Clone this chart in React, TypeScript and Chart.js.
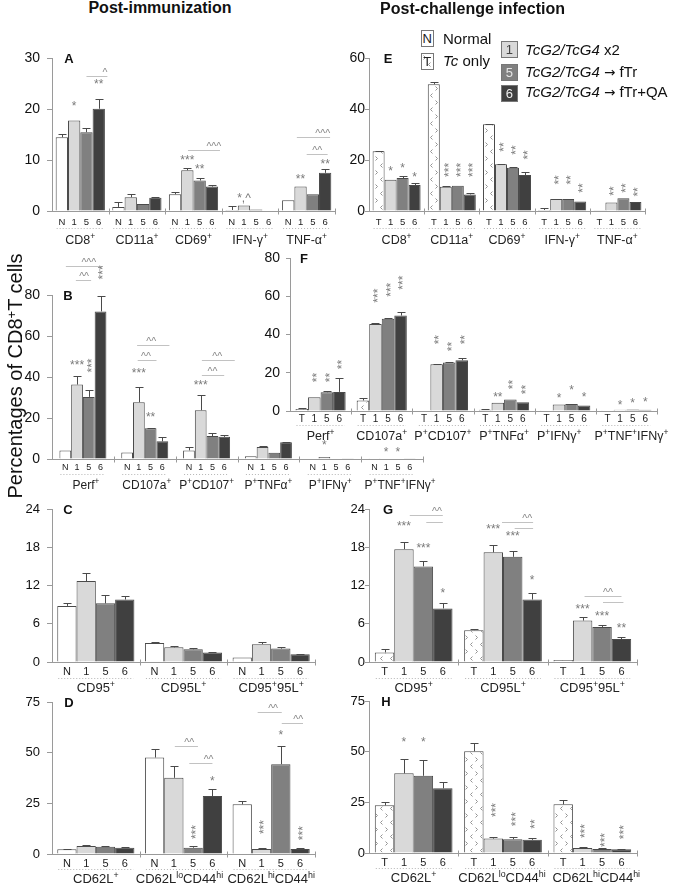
import React, { useEffect, useRef } from 'react';
import { Chart, registerables } from 'chart.js';

Chart.register(...registerables);

const FONT = '"Liberation Sans", Arial, Helvetica, sans-serif';

// ---------- DATA (series order: control N/T, 1, 5, 6) ----------
// Panel A – post-immunization
const catsA = ['CD8^{+}', 'CD11a^{+}', 'CD69^{+}', 'IFN-γ^{+}', 'TNF-α^{+}'];
const A_ctrl = [14.5, 0.8, 3.3, 0.2, 2.1];
const A_g1 = [17.8, 2.7, 8.0, 1.1, 4.8];
const A_g5 = [15.5, 1.4, 6.0, 0.3, 3.3];
const A_g6 = [20.1, 2.6, 4.8, 0.1, 7.5];
const A_eCtrl = [0.7, 1.0, 0.4, 0.8, 0];
const A_e1 = [0, 0.7, 0.4, 0, 0];
const A_e5 = [0.8, 0, 0.4, 0, 0];
const A_e6 = [1.9, 0.2, 0.3, 0, 0.7];
const A_stars = [[0, 1, '*', 21.2, 0], [0, 3, '**', 25.5, 0], [2, 1, '***', 10.6, 0], [2, 2, '**', 8.8, 0], [3, 1, '*,^', 3.1, 0], [4, 1, '**', 6.9, 0], [4, 3, '**', 9.8, 0]];
const A_lines = [[0, 2, 3.7, 26.6, '^', 3.5], [2, 1.05, 3.65, 12.0, '^^^', 3.15], [4, 0.7, 3.4, 14.5, '^^^', 2.8], [4, 1.5, 3.2, 11.2, '^^', 2.35]];

// Panel E – post-challenge
const catsE = ['CD8^{+}', 'CD11a^{+}', 'CD69^{+}', 'IFN-γ^{+}', 'TNF-α^{+}'];
const E_ctrl = [23.4, 49.7, 34.0, 0.4, 0.1];
const E_g1 = [12.3, 9.5, 18.3, 4.7, 3.3];
const E_g5 = [12.9, 9.9, 17.0, 4.7, 5.0];
const E_g6 = [10.2, 6.5, 14.1, 3.7, 3.5];
const E_eCtrl = [0.3, 1.0, 0.2, 0.6, 0];
const E_e1 = [0, 0.3, 0.2, 0, 0];
const E_e5 = [0.7, 0, 0.3, 0, 0];
const E_e6 = [0.6, 0.4, 1.1, 0, 0];
const E_stars = [[0, 1, '*', 16.9, 0], [0, 2, '*', 18.0, 0], [0, 3, '*', 14.5, 0],
  [1, 1, '***', 16.1, 1], [1, 2, '***', 16.1, 1], [1, 3, '***', 16.1, 1],
  [2, 1, '**', 25.1, 1], [2, 2, '**', 23.9, 1], [2, 3, '**', 22.0, 1],
  [3, 1, '**', 12.2, 1], [3, 2, '**', 12.2, 1], [3, 3, '**', 9.0, 1],
  [4, 1, '**', 7.8, 1], [4, 2, '**', 9.0, 1], [4, 3, '**', 7.5, 1]];
const E_lines: any[] = [];

// Panel B – post-immunization
const catsB = ['Perf^{+}', 'CD107a^{+}', 'P^{+}CD107^{+}', 'P^{+}TNFα^{+}', 'P^{+}IFNγ^{+}', 'P^{+}TNF^{+}IFNγ^{+}'];
const B_ctrl = [4.2, 3.2, 4.2, 1.4, 0.2, 0.1];
const B_g1 = [36.3, 27.7, 23.8, 5.8, 1.0, 0.2];
const B_g5 = [30.3, 15.0, 11.2, 3.0, 0.3, 0.2];
const B_g6 = [72.0, 8.6, 10.8, 8.2, 0.1, 0.1];
const B_eCtrl = [0, 0, 1.5, 0, 0, 0];
const B_e1 = [4.0, 7.6, 7.2, 0.4, 0, 0];
const B_e5 = [3.2, 0.3, 1.7, 0, 0, 0];
const B_e6 = [7.4, 2.1, 0.9, 0.3, 0, 0];
const B_stars = [[0, 1, '***', 47.1, 0], [0, 2, '***', 45.6, 1], [0, 3, '***', 91.0, 1], [1, 1, '***', 43.2, 0], [1, 2, '**', 21.7, 0], [2, 1, '***', 37.3, 0], [4, 1, '*', 8.0, 0], [5, 1, '*', 4.6, 0], [5, 2, '*', 4.6, 0]];
const B_lines = [[0, 0.05, 3.2, 94.3, '^^^', 2.0], [0, 0.9, 2.2, 87.1, '^^', 1.6], [1, 0.85, 3.6, 55.5, '^^', 2.05], [1, 0.9, 2.5, 48.5, '^^', 1.6], [2, 1.1, 3.9, 48.2, '^^', 2.4], [2, 1.1, 3.0, 41.2, '^^', 2.0]];

// Panel F – post-challenge
const catsF = ['Perf^{+}', 'CD107a^{+}', 'P^{+}CD107^{+}', 'P^{+}TNFα^{+}', 'P^{+}IFNγ^{+}', 'P^{+}TNF^{+}IFNγ^{+}'];
const F_ctrl = [1.1, 5.5, 0.3, 0.6, 0.1, 0.1];
const F_g1 = [7.2, 45.5, 24.5, 4.3, 3.4, 0.7];
const F_g5 = [9.8, 48.3, 25.4, 6.0, 3.6, 0.8];
const F_g6 = [10.0, 49.9, 26.5, 4.6, 2.9, 0.6];
const F_eCtrl = [0.4, 1.4, 0, 0.3, 0, 0];
const F_e1 = [0, 0.3, 0.2, 0, 0, 0];
const F_e5 = [0.5, 0.2, 0.3, 0, 0, 0];
const F_e6 = [7.3, 1.9, 1.1, 0, 0, 0];
const F_stars = [[0, 1, '**', 17.5, 1], [0, 2, '**', 17.5, 1], [0, 3, '**', 24.3, 1],
  [1, 1, '***', 60.3, 1], [1, 2, '***', 63.4, 1], [1, 3, '***', 67.1, 1],
  [2, 1, '**', 37.3, 1], [2, 2, '**', 33.7, 1], [2, 3, '**', 37.3, 1],
  [3, 1, '**', 8.6, 0], [3, 2, '**', 13.8, 1], [3, 3, '**', 11.2, 1],
  [4, 1, '*', 8.1, 0], [4, 2, '*', 12.4, 0], [4, 3, '*', 8.6, 0],
  [5, 1, '*', 4.8, 0], [5, 2, '*', 5.5, 0], [5, 3, '*', 6.0, 0]];
const F_lines: any[] = [];

// Panel C – post-immunization
const catsC = ['CD95^{+}', 'CD95L^{+}', 'CD95^{+}95L^{+}'];
const C_ctrl = [8.8, 3.0, 0.7];
const C_g1 = [12.7, 2.3, 2.8];
const C_g5 = [9.2, 2.0, 2.1];
const C_g6 = [9.8, 1.5, 1.2];
const C_eCtrl = [0.5, 0.1, 0];
const C_e1 = [1.3, 0.2, 0.3];
const C_e5 = [1.3, 0.2, 0.3];
const C_e6 = [0.5, 0.1, 0.1];
const C_stars: any[] = [];
const C_lines: any[] = [];

// Panel G – post-challenge
const catsG = ['CD95^{+}', 'CD95L^{+}', 'CD95^{+}95L^{+}'];
const G_ctrl = [1.5, 5.0, 0.3];
const G_g1 = [17.7, 17.2, 6.5];
const G_g5 = [15.0, 16.5, 5.5];
const G_g6 = [8.4, 9.8, 3.6];
const G_eCtrl = [0.5, 0.1, 0];
const G_e1 = [1.2, 1.2, 0.5];
const G_e5 = [0.8, 0.9, 0.3];
const G_e6 = [0.9, 1.1, 0.4];
const G_stars = [[0, 1, '***', 21.8, 0], [0, 2, '***', 18.35, 0], [0, 3, '*', 11.3, 0], [1, 1, '***', 21.3, 0], [1, 2, '***', 20.2, 0], [1, 3, '*', 13.3, 0], [2, 1, '***', 8.8, 0], [2, 2, '***', 7.7, 0], [2, 3, '**', 5.8, 0]];
const G_lines = [[0, 1.3, 3.0, 23.1, '^^', 2.7], [0, 2.15, 3.0, 21.96, '', 0], [1, 1.45, 3.05, 21.96, '^^', 2.75], [1, 2.1, 3.05, 21.0, '', 0], [2, 1.1, 3.0, 10.35, '^^', 2.3], [2, 2.05, 3.1, 9.4, '', 0]];

// Panel D – post-immunization
const catsD = ['CD62L^{+}', 'CD62L^{lo}CD44^{hi}', 'CD62L^{hi}CD44^{hi}'];
const D_ctrl = [2.3, 47.6, 24.5];
const D_g1 = [3.9, 37.6, 2.5];
const D_g5 = [3.6, 3.1, 44.3];
const D_g6 = [3.1, 28.6, 2.5];
const D_eCtrl = [0.3, 4.4, 1.8];
const D_e1 = [0.5, 5.9, 0.4];
const D_e5 = [0.4, 0.8, 9.2];
const D_e6 = [0.3, 3.3, 0.4];
const D_stars = [[1, 2, '***', 10.8, 1], [1, 3, '*', 37.4, 0], [2, 1, '***', 13.3, 1], [2, 2, '*', 60.1, 0], [2, 3, '***', 10.3, 1]];
const D_lines = [[1, 1.05, 2.25, 53.2, '^^', 1.8], [1, 1.8, 3.0, 44.8, '^^', 2.8], [2, 0.8, 2.05, 70.0, '^^', 1.6], [2, 2.05, 3.15, 64.5, '^^', 2.9]];

// Panel H – post-challenge
const catsH = ['CD62L^{+}', 'CD62L^{lo}CD44^{hi}', 'CD62L^{hi}CD44^{hi}'];
const H_ctrl = [23.5, 50.2, 24.0];
const H_g1 = [39.3, 7.1, 2.5];
const H_g5 = [38.1, 6.8, 2.0];
const H_g6 = [31.9, 6.5, 1.8];
const H_eCtrl = [1.8, 4.1, 2.1];
const H_e1 = [7.0, 1.0, 0.5];
const H_e5 = [8.0, 0.9, 0.3];
const H_e6 = [3.3, 0.8, 0.2];
const H_stars = [[0, 1, '*', 56.2, 0], [0, 2, '*', 56.2, 0], [1, 1, '***', 21.2, 1], [1, 2, '***', 16.7, 1], [1, 3, '**', 14.3, 1], [2, 1, '***', 10.8, 1], [2, 2, '***', 6.4, 1], [2, 3, '***', 10.3, 1]];
const H_lines: any[] = [];

const groupsN = ['N', '1', '5', '6'];
const groupsT = ['T', '1', '5', '6'];

// ---------- LAYOUT ----------
const YW = 45;
const PAD_R = 14;
const FILLS = ['#ffffff', '#d9d9d9', '#808080', '#404040'];

interface Panel {
  letter: string; sub: string[]; pattern: boolean;
  cats: string[]; series: number[][]; errs: number[][]; stars: any[]; lines: any[];
  max: number; step: number;
  x0: number; x1: number; yTop: number; yBot: number; padTop: number; padBottom: number;
  catPct: number; tickFont: number; tickLen: number; tickPad: number;
  subFont: number; catFont: number; subDy: number; dotDy: number; catDy: number; letterDx: number;
  catDx: number[];
}

const panels: Panel[] = [
  { letter: 'A', sub: groupsN, pattern: false, cats: catsA, series: [A_ctrl, A_g1, A_g5, A_g6], errs: [A_eCtrl, A_e1, A_e5, A_e6], stars: A_stars, lines: A_lines,
    max: 30, step: 10, x0: 52, x1: 335, yTop: 58, yBot: 211, padTop: 15, padBottom: 36, catPct: 0.87, tickFont: 14, tickLen: 5, tickPad: 7,
    subFont: 9.5, catFont: 12.5, subDy: 10.7, dotDy: 16, catDy: 27.5, letterDx: 17, catDx: [0, 0, 0, 0, 0] },
  { letter: 'E', sub: groupsT, pattern: true, cats: catsE, series: [E_ctrl, E_g1, E_g5, E_g6], errs: [E_eCtrl, E_e1, E_e5, E_e6], stars: E_stars, lines: E_lines,
    max: 60, step: 20, x0: 369, x1: 645, yTop: 58, yBot: 211, padTop: 15, padBottom: 36, catPct: 0.87, tickFont: 14, tickLen: 4, tickPad: 0,
    subFont: 9.5, catFont: 12.5, subDy: 10.5, dotDy: 16.5, catDy: 28, letterDx: 19, catDx: [0, 0, 0, 0, 0] },
  { letter: 'B', sub: groupsN, pattern: false, cats: catsB, series: [B_ctrl, B_g1, B_g5, B_g6], errs: [B_eCtrl, B_e1, B_e5, B_e6], stars: B_stars, lines: B_lines,
    max: 80, step: 20, x0: 52, x1: 423, yTop: 295, yBot: 459, padTop: 45, padBottom: 34, catPct: 0.76, tickFont: 14, tickLen: 5, tickPad: 7,
    subFont: 9, catFont: 12, subDy: 8.5, dotDy: 14, catDy: 25, letterDx: 16, catDx: [3, 2, 0, 0, 0, 8] },
  { letter: 'F', sub: groupsT, pattern: true, cats: catsF, series: [F_ctrl, F_g1, F_g5, F_g6], errs: [F_eCtrl, F_e1, F_e5, F_e6], stars: F_stars, lines: F_lines,
    max: 80, step: 20, x0: 290, x1: 657, yTop: 258, yBot: 411, padTop: 15, padBottom: 34, catPct: 0.82, tickFont: 14, tickLen: 4, tickPad: 6,
    subFont: 10, catFont: 12.5, subDy: 7.5, dotDy: 13.5, catDy: 24, letterDx: 14, catDx: [0, 0, 0, 0, -6, 5] },
  { letter: 'C', sub: groupsN, pattern: false, cats: catsC, series: [C_ctrl, C_g1, C_g5, C_g6], errs: [C_eCtrl, C_e1, C_e5, C_e6], stars: C_stars, lines: C_lines,
    max: 24, step: 6, x0: 52, x1: 315, yTop: 509, yBot: 662, padTop: 15, padBottom: 34, catPct: 0.88, tickFont: 13, tickLen: 5, tickPad: 7,
    subFont: 11, catFont: 13, subDy: 9, dotDy: 15, catDy: 25, letterDx: 16, catDx: [0, 0, 0] },
  { letter: 'G', sub: groupsT, pattern: true, cats: catsG, series: [G_ctrl, G_g1, G_g5, G_g6], errs: [G_eCtrl, G_e1, G_e5, G_e6], stars: G_stars, lines: G_lines,
    max: 24, step: 6, x0: 369, x1: 637, yTop: 509, yBot: 662, padTop: 15, padBottom: 34, catPct: 0.87, tickFont: 13, tickLen: 4, tickPad: 0,
    subFont: 11, catFont: 13, subDy: 9, dotDy: 15, catDy: 25, letterDx: 19, catDx: [0, 0, 0] },
  { letter: 'D', sub: groupsN, pattern: false, cats: catsD, series: [D_ctrl, D_g1, D_g5, D_g6], errs: [D_eCtrl, D_e1, D_e5, D_e6], stars: D_stars, lines: D_lines,
    max: 75, step: 25, x0: 52, x1: 315, yTop: 702, yBot: 854, padTop: 15, padBottom: 30, catPct: 0.88, tickFont: 13, tickLen: 5, tickPad: 7,
    subFont: 11, catFont: 13, subDy: 9, dotDy: 14, catDy: 23.5, letterDx: 17, catDx: [0, -4, 0] },
  { letter: 'H', sub: groupsT, pattern: true, cats: catsH, series: [H_ctrl, H_g1, H_g5, H_g6], errs: [H_eCtrl, H_e1, H_e5, H_e6], stars: H_stars, lines: H_lines,
    max: 75, step: 25, x0: 369, x1: 637, yTop: 701, yBot: 853, padTop: 15, padBottom: 30, catPct: 0.87, tickFont: 13, tickLen: 4, tickPad: 0,
    subFont: 11, catFont: 13, subDy: 9, dotDy: 14, catDy: 24, letterDx: 17, catDx: [0, -1, 4] },
];

function geom(p: Panel) {
  return {
    left: p.x0 - YW,
    top: p.yTop - p.padTop,
    w: p.x1 - p.x0 + YW + PAD_R,
    h: p.padTop + (p.yBot - p.yTop) + p.padBottom,
  };
}

function makePattern(): any {
  const c = document.createElement('canvas');
  c.width = 10; c.height = 14;
  const g = c.getContext('2d');
  if (!g) return '#fff';
  g.fillStyle = '#fff'; g.fillRect(0, 0, 10, 14);
  g.strokeStyle = '#939393'; g.lineWidth = 1;
  g.beginPath();
  g.moveTo(1.5, 1.5); g.lineTo(3.5, 3.5); g.lineTo(1.5, 5.5);
  g.moveTo(8.5, 8.5); g.lineTo(6.5, 10.5); g.lineTo(8.5, 12.5);
  g.stroke();
  return g.createPattern(c, 'repeat') || '#fff';
}

function drawRich(ctx: CanvasRenderingContext2D, s: string, cx: number, cy: number, fs: number) {
  const parts: { t: string; sup: boolean; w: number }[] = [];
  const re = /\^\{([^}]*)\}/g;
  let last = 0; let m: RegExpExecArray | null;
  while ((m = re.exec(s))) {
    if (m.index > last) parts.push({ t: s.slice(last, m.index), sup: false, w: 0 });
    parts.push({ t: m[1], sup: true, w: 0 });
    last = re.lastIndex;
  }
  if (last < s.length) parts.push({ t: s.slice(last), sup: false, w: 0 });
  const supFs = fs * 0.68;
  let total = 0;
  for (const pt of parts) {
    ctx.font = `${pt.sup ? supFs : fs}px ${FONT}`;
    pt.w = ctx.measureText(pt.t).width;
    total += pt.w;
  }
  let x = cx - total / 2;
  const base = cy + fs * 0.36;
  ctx.textAlign = 'left';
  ctx.textBaseline = 'alphabetic';
  for (const pt of parts) {
    ctx.font = `${pt.sup ? supFs : fs}px ${FONT}`;
    ctx.fillText(pt.t, x, pt.sup ? base - fs * 0.38 : base);
    x += pt.w;
  }
}

function makePlugin(p: Panel) {
  const barX = (chart: any, c: number, pos: number) => {
    const a = chart.getDatasetMeta(0).data[c];
    const b = chart.getDatasetMeta(3).data[c];
    const sp = (b.x - a.x) / 3;
    return a.x + pos * sp;
  };
  return {
    id: 'panelDeco' + p.letter,
    afterDatasetsDraw(chart: any) {
      const ctx: CanvasRenderingContext2D = chart.ctx;
      const ys = chart.scales.y;
      const area = chart.chartArea;
      ctx.save();
      // error bars
      p.errs.forEach((errArr, di) => {
        const meta = chart.getDatasetMeta(di);
        meta.data.forEach((el: any, j: number) => {
          const e = errArr[j];
          if (!e) return;
          const v = chart.data.datasets[di].data[j] as number;
          const yb = ys.getPixelForValue(v);
          const yt = Math.round(ys.getPixelForValue(v + e)) + 0.5;
          const x = Math.round(el.x) + 0.5;
          ctx.strokeStyle = '#4a4a4a'; ctx.lineWidth = 1;
          ctx.beginPath();
          ctx.moveTo(x, yb); ctx.lineTo(x, yt);
          ctx.moveTo(x - 4, yt); ctx.lineTo(x + 4, yt);
          ctx.stroke();
        });
      });
      // x axis
      const y0 = Math.round(ys.getPixelForValue(0)) + 0.5;
      ctx.strokeStyle = '#9a9a9a'; ctx.lineWidth = 1;
      ctx.beginPath(); ctx.moveTo(area.left, y0); ctx.lineTo(area.right, y0); ctx.stroke();
      const n = p.cats.length;
      const cw = (area.right - area.left) / n;
      ctx.beginPath();
      for (let j = 1; j <= n; j++) {
        const bx = Math.round(area.left + j * cw) + 0.5;
        ctx.moveTo(bx, y0 - 3); ctx.lineTo(bx, y0 + 3);
      }
      ctx.stroke();
      // sub labels, dotted line, category labels
      ctx.fillStyle = '#222';
      for (let c = 0; c < n; c++) {
        const els = [0, 1, 2, 3].map((d) => chart.getDatasetMeta(d).data[c]);
        ctx.font = `${p.subFont}px ${FONT}`;
        ctx.textAlign = 'center'; ctx.textBaseline = 'middle';
        els.forEach((el: any, d: number) => ctx.fillText(p.sub[d], el.x, y0 + p.subDy));
        const l = els[0].x - els[0].width / 2 + 1;
        const r = els[3].x + els[3].width / 2 - 1;
        ctx.save();
        ctx.strokeStyle = '#b5b5b5'; ctx.setLineDash([1, 2]);
        ctx.beginPath(); ctx.moveTo(l, Math.round(y0 + p.dotDy) + 0.5); ctx.lineTo(r, Math.round(y0 + p.dotDy) + 0.5); ctx.stroke();
        ctx.restore();
        drawRich(ctx, p.cats[c], (els[0].x + els[3].x) / 2 + (p.catDx[c] || 0), y0 + p.catDy, p.catFont);
      }
      // significance lines
      for (const ln of p.lines) {
        const [c, p1, p2, v, txt, tp] = ln;
        const yy = Math.round(ys.getPixelForValue(v)) + 0.5;
        ctx.strokeStyle = '#c2c2c2'; ctx.lineWidth = 1;
        ctx.beginPath(); ctx.moveTo(barX(chart, c, p1), yy); ctx.lineTo(barX(chart, c, p2), yy); ctx.stroke();
        if (txt) {
          ctx.font = `10.5px ${FONT}`; ctx.fillStyle = '#888';
          ctx.textAlign = 'center'; ctx.textBaseline = 'alphabetic';
          ctx.fillText(txt, barX(chart, c, tp), yy - 1);
        }
      }
      // stars
      const fs = 12;
      for (const st of p.stars) {
        const [c, s, txt, v, vert] = st;
        const x = barX(chart, c, s);
        const yy = ys.getPixelForValue(v);
        ctx.font = `${fs}px ${FONT}`; ctx.fillStyle = '#7a7a7a';
        ctx.textAlign = 'center'; ctx.textBaseline = 'alphabetic';
        if (!vert) {
          ctx.fillText(txt, x, yy + fs * 0.57);
        } else {
          ctx.save();
          ctx.translate(x, yy); ctx.rotate(-Math.PI / 2);
          ctx.fillText(txt, 0, fs * 0.57);
          ctx.restore();
        }
      }
      // panel letter
      ctx.font = `bold 13px ${FONT}`; ctx.fillStyle = '#111';
      ctx.textAlign = 'center'; ctx.textBaseline = 'alphabetic';
      ctx.fillText(p.letter, area.left + p.letterDx, area.top + 13 * 0.36);
      ctx.restore();
    },
  };
}

function makeChart(canvas: HTMLCanvasElement, p: Panel, pattern: any) {
  return new Chart(canvas, {
    type: 'bar',
    data: {
      labels: p.cats,
      datasets: p.series.map((d, i) => ({
        data: d,
        backgroundColor: i === 0 && p.pattern ? pattern : FILLS[i],
        borderColor: '#4a4a4a',
        borderWidth: 1,
        barPercentage: 1,
        categoryPercentage: p.catPct,
      })),
    },
    options: {
      responsive: false,
      maintainAspectRatio: false,
      animation: false,
      events: [],
      layout: { padding: { left: 0, right: PAD_R, top: p.padTop, bottom: p.padBottom } },
      plugins: { legend: { display: false }, tooltip: { enabled: false } },
      scales: {
        x: { display: false, offset: true },
        y: {
          min: 0, max: p.max,
          ticks: { stepSize: p.step, font: { family: FONT, size: p.tickFont }, color: '#111', padding: p.tickPad },
          grid: { drawOnChartArea: false, tickLength: p.tickLen, color: '#9a9a9a' },
          border: { color: '#9a9a9a' },
          afterFit: (s: any) => { s.width = YW; },
        },
      },
    } as any,
    plugins: [makePlugin(p)],
  });
}

const SUP: React.CSSProperties = { fontSize: '0.65em', position: 'relative', top: '-0.45em' };
const ARROW: React.CSSProperties = { fontFamily: '"DejaVu Sans", sans-serif', fontSize: '0.9em' };

function LegendBox({ left, top, w, h, bg, color, ch, pat }: any) {
  return (
    <div style={{ position: 'absolute', left, top, width: w, height: h, boxSizing: 'border-box', border: '1px solid #777', background: bg, overflow: 'hidden' }}>
      {pat && (
        <svg width={w} height={h} style={{ position: 'absolute', left: 0, top: 0 }}>
          <defs>
            <pattern id="chev" width="10" height="14" patternUnits="userSpaceOnUse">
              <path d="M1.5 1.5 L3.5 3.5 L1.5 5.5 M8.5 8.5 L6.5 10.5 L8.5 12.5" stroke="#939393" strokeWidth="1" fill="none" />
            </pattern>
          </defs>
          <rect x="0" y="0" width={w} height={h} fill="url(#chev)" />
        </svg>
      )}
      <div style={{ position: 'absolute', left: 0, top: 0, width: '100%', height: '100%', display: 'flex', alignItems: 'center', justifyContent: 'center', font: `13px ${FONT}`, color }}>{ch}</div>
    </div>
  );
}

export default function App() {
  const refs = useRef<(HTMLCanvasElement | null)[]>([]);
  useEffect(() => {
    const pattern = makePattern();
    const charts = panels.map((p, i) => makeChart(refs.current[i] as HTMLCanvasElement, p, pattern));
    return () => { charts.forEach((c) => c.destroy()); };
  }, []);

  const txt = (left: number, top: number, size: number, content: any, extra: React.CSSProperties = {}) => (
    <div style={{ position: 'absolute', left, top, font: `${size}px ${FONT}`, lineHeight: `${size}px`, whiteSpace: 'nowrap', color: '#111', ...extra }}>{content}</div>
  );

  return (
    <div style={{ position: 'absolute', left: 0, top: 0, width: 673, height: 884, background: '#fff', overflow: 'hidden', fontFamily: FONT }}>
      {panels.map((p, i) => {
        const g = geom(p);
        return (
          <canvas key={p.letter} ref={(el) => { refs.current[i] = el; }} width={g.w} height={g.h}
            style={{ position: 'absolute', left: g.left, top: g.top, width: g.w, height: g.h }} />
        );
      })}
      {/* titles */}
      <div style={{ position: 'absolute', left: 60, top: 0, width: 200, textAlign: 'center', font: `bold 16px ${FONT}`, lineHeight: '16px', color: '#111' }}>Post-immunization</div>
      <div style={{ position: 'absolute', left: 342.5, top: 1, width: 260, textAlign: 'center', font: `bold 16px ${FONT}`, lineHeight: '16px', color: '#111' }}>Post-challenge infection</div>
      {/* y title */}
      <div style={{ position: 'absolute', left: -133.6, top: 363.5, width: 300, height: 24, lineHeight: '24px', textAlign: 'center', font: `20px ${FONT}`, color: '#111', transform: 'rotate(-90deg)', whiteSpace: 'nowrap' }}>
        Percentages of CD8<span style={SUP}>+</span>T cells
      </div>
      {/* legend */}
      <LegendBox left={420.5} top={30} w={13.5} h={16.5} bg="#fff" color="#222" ch="N" />
      {txt(443, 30.5, 15, 'Normal')}
      <LegendBox left={420.5} top={52.5} w={13.5} h={17.5} bg="#fff" color="#222" ch="T" pat />
      {txt(443, 53, 15, <span><i>Tc</i> only</span>)}
      <LegendBox left={500.5} top={40.5} w={17.5} h={17} bg="#d9d9d9" color="#444" ch="1" />
      {txt(525, 42, 15, <span><i>TcG2/TcG4</i> x2</span>)}
      <LegendBox left={500.5} top={64} w={17.5} h={17} bg="#808080" color="#e6e6e6" ch="5" />
      {txt(525, 63.8, 15, <span><i>TcG2/TcG4</i> <span style={ARROW}>→</span> fTr</span>)}
      <LegendBox left={500.5} top={85} w={17.5} h={17} bg="#404040" color="#eeeeee" ch="6" />
      {txt(525, 83.8, 15, <span><i>TcG2/TcG4</i> <span style={ARROW}>→</span> fTr+QA</span>)}
    </div>
  );
}
